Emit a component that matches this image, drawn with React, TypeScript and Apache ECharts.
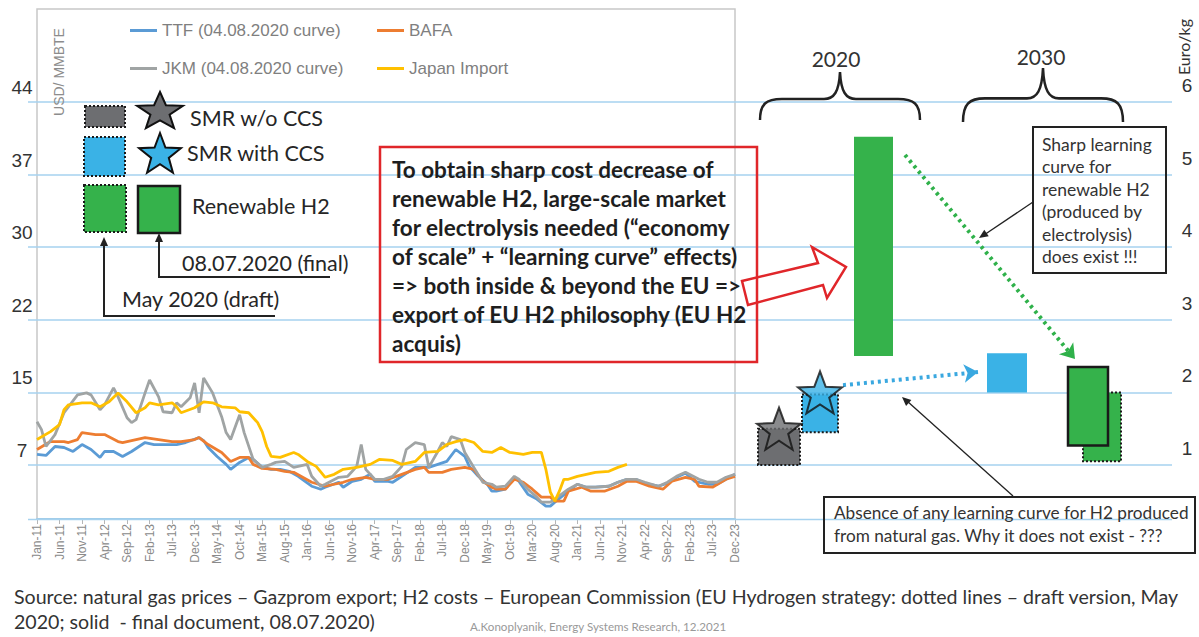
import React, { useEffect, useRef } from 'react';
import * as echarts from 'echarts';

// ---------- DATA ----------
const MONTHS = ['Jan', 'Feb', 'Mar', 'Apr', 'May', 'Jun', 'Jul', 'Aug', 'Sep', 'Oct', 'Nov', 'Dec'];
const YEARS = [2011, 2012, 2013, 2014, 2015, 2016, 2017, 2018, 2019, 2020, 2021, 2022, 2023];
const monthLabels: string[] = [];
YEARS.forEach((y) => MONTHS.forEach((m) => monthLabels.push(`${m}-${String(y).slice(2)}`)));

// [month index from Jan-11, USD/MMBtu]
const ttf = [[0,8.5],[2,8.4],[4,9.3],[6,9.2],[8,8.8],[10,9.5],[12,9.0],[14,8.2],[15,8.8],[17,8.8],[19,8.3],[21,8.8],[24,9.7],[26,9.5],[28,9.5],[31,9.5],[33,9.7],[36,10.2],[37,9.9],[38,9.2],[40,8.3],[42,7.5],[43,7.0],[45,7.7],[47,8.2],[48,8.0],[50,7.2],[52,7.0],[54,7.0],[56,6.8],[58,6.3],[61,5.3],[63,5.0],[64,5.2],[67,5.7],[68,5.2],[70,5.8],[72,6.0],[74,6.5],[75,5.8],[78,5.8],[79,5.7],[81,6.3],[84,7.2],[87,7.2],[89,7.5],[91,7.8],[93,9.0],[95,8.3],[96,7.3],[98,6.3],[100,5.5],[101,4.8],[102,4.8],[104,5.0],[106,6.2],[107,5.8],[109,4.5],[111,4.0],[113,3.3],[114,3.3],[115,3.7],[118,4.8],[120,5.5],[122,5.2],[124,5.2],[127,5.3],[129,5.7],[131,6.0],[133,6.0],[135,5.6],[138,5.3],[140,5.6],[142,6.2],[144,6.6],[146,5.8],[149,5.5],[151,5.5],[153,6.0],[155,6.5]];
const bafa = [[0,9.0],[3,9.8],[6,9.8],[7,9.7],[9,10.0],[10,10.7],[13,10.5],[15,10.5],[18,9.8],[19,9.7],[22,10.0],[24,10.2],[27,10.0],[30,9.8],[32,9.8],[35,10.0],[36,10.2],[38,9.5],[41,8.7],[43,7.8],[45,8.2],[47,8.2],[48,7.5],[50,7.1],[53,7.0],[55,6.8],[57,6.7],[59,6.2],[61,5.7],[64,5.3],[66,5.5],[68,5.7],[70,6.0],[73,6.2],[75,6.0],[78,6.0],[81,6.5],[84,7.0],[86,7.2],[87,6.7],[90,6.7],[92,7.0],[95,7.2],[97,7.0],[99,5.8],[101,5.2],[102,5.0],[104,5.0],[106,6.0],[108,5.7],[110,5.0],[112,4.2],[114,4.2],[115,3.8],[117,3.8],[118,4.8],[121,5.2],[123,4.8],[126,4.8],[129,5.3],[131,5.8],[133,5.8],[136,5.3],[139,5.0],[141,5.8],[144,6.2],[146,6.0],[147,5.3],[150,5.2],[153,6.0],[155,6.3]];
const jkm = [[0,11.8],[1,11.0],[2,9.3],[4,10.5],[6,12.7],[9,14.5],[11,14.7],[12,14.5],[14,13.0],[15,13.5],[17,15.2],[18,14.3],[20,12.2],[21,11.7],[22,12.0],[24,14.7],[25,16.0],[27,14.3],[28,12.8],[30,12.7],[31,13.7],[32,13.3],[34,14.2],[35,15.7],[36,12.7],[37,16.2],[39,14.7],[41,12.3],[42,10.7],[43,10.0],[45,12.5],[46,10.7],[48,8.0],[50,7.2],[52,7.5],[53,7.7],[55,7.8],[57,7.2],[58,7.3],[60,7.5],[61,6.3],[63,5.3],[64,5.5],[67,6.2],[69,6.3],[71,7.3],[72,9.5],[73,7.0],[75,6.0],[77,6.0],[79,6.3],[81,7.3],[82,9.0],[84,9.7],[86,9.5],[87,7.2],[89,8.8],[90,9.7],[91,9.3],[92,10.3],[94,10.0],[95,8.7],[97,7.2],[99,5.7],[101,5.5],[102,5.2],[104,5.3],[106,6.3],[107,6.0],[109,5.0],[111,4.2],[112,3.7],[114,3.7],[115,4.0],[118,5.0],[120,5.5],[122,5.2],[124,5.2],[127,5.3],[129,5.7],[131,6.0],[133,6.0],[135,5.7],[138,5.3],[140,5.7],[142,6.3],[144,6.7],[147,6.0],[149,5.7],[151,5.7],[153,6.2],[155,6.5]];
const japanImport = [[0,10.0],[3,10.8],[5,11.5],[6,13.0],[7,13.5],[10,13.7],[12,13.7],[14,13.3],[16,13.8],[18,14.7],[20,13.8],[22,12.7],[24,13.2],[25,13.7],[27,13.5],[30,13.7],[31,13.3],[32,12.7],[35,13.2],[37,13.8],[39,13.7],[41,13.3],[44,13.2],[45,12.8],[47,12.7],[49,11.7],[50,10.8],[51,9.3],[52,8.3],[54,8.2],[57,8.7],[58,8.5],[60,7.8],[62,7.3],[64,6.2],[66,6.5],[68,7.0],[71,7.2],[74,7.5],[76,8.0],[79,7.9],[81,7.5],[84,7.8],[86,8.7],[89,8.8],[91,9.5],[93,9.8],[95,10.0],[97,9.7],[99,8.8],[101,8.7],[103,9.2],[105,8.7],[108,8.5],[110,8.7],[112,8.7],[113,7.0],[114,4.7],[115,3.8],[116,4.8],[117,6.0],[118,6.0],[120,6.3],[122,6.5],[124,6.7],[127,6.8],[129,7.2],[131,7.5]];

const USD_TICK_LABELS = ['', '7', '15', '22', '30', '37', '44'];
const EUR_TICK_LABELS = ['', '1', '2', '3', '4', '5', '6'];

// H2 cost ranges, Euro/kg
const h2Names = ['SMR w/o CCS 2020 (draft)', 'SMR with CCS 2020 (draft)', 'Renewable H2 2020', 'SMR with CCS 2030', 'Renewable H2 2030 (draft)', 'Renewable H2 2030 (final)'];
const h2Low = [1.0, 1.45, 2.5, 2.0, 1.05, 1.27];
const h2High = [1.5, 1.97, 5.52, 2.54, 2.0, 2.35];
const starNames = ['SMR w/o CCS 2020 (final)', 'SMR with CCS 2020 (final)'];
const starValues = [1.5, 2.0];

// ---------- LAYOUT / STYLE ----------
const H2_LEFT = [730, 774, 826, 959, 1055, 1040];
const H2_WIDTH = [42, 36, 39, 40, 38, 40];
const STAR_X = [751, 792];
const GRAY = '#6d6e71';
const BLUE = '#3ab2e6';
const GREEN = '#35b24b';
const BOX_STYLES = [
  { fill: GRAY, stroke: '#1a1a1a', lineWidth: 2, lineDash: [2, 2] },
  { fill: BLUE, stroke: '#1a1a1a', lineWidth: 2, lineDash: [2, 2] },
  { fill: GREEN, stroke: null, lineWidth: 0, lineDash: null },
  { fill: BLUE, stroke: null, lineWidth: 0, lineDash: null },
  { fill: GREEN, stroke: '#1a1a1a', lineWidth: 2, lineDash: [2, 2] },
  { fill: GREEN, stroke: '#1a1a1a', lineWidth: 2.5, lineDash: null },
];
const STAR_PATH = 'path://M50,0 L62.34,33.01 L97.55,34.55 L69.97,56.49 L79.39,90.45 L50,71 L20.61,90.45 L30.03,56.49 L2.45,34.55 L37.66,33.01 Z';
const BRACE_D = 'M0,48 C0,32 6,27 22,27 L64,27 C74,27 79,20 80,0 C81,20 86,27 96,27 L138,27 C154,27 160,32 160,48';
echarts.graphic.registerShape('hbrace', echarts.graphic.extendPath(BRACE_D, {}));

const FONT = 'Lato';
const DARK = '#262626';

function txt(text: string, x: number, y: number, font: string, fill = DARK, align = 'left', extra: any = {}) {
  return { type: 'text', x, y, z: 20, silent: true, style: { text, font, fill, textAlign: align, textVerticalAlign: 'middle', verticalAlign: 'middle' }, ...extra };
}
function starPts(cx: number, cy: number, rx: number, ry: number, ratio = 0.42) {
  const pts: number[][] = [];
  for (let i = 0; i < 10; i++) {
    const a = -Math.PI / 2 + (i * Math.PI) / 5;
    const r = i % 2 === 0 ? 1 : ratio;
    pts.push([cx + rx * r * Math.cos(a), cy + ry * r * Math.sin(a)]);
  }
  return pts;
}
function head(x1: number, y1: number, x2: number, y2: number, len = 10, half = 4, color = '#222') {
  const dx = x2 - x1, dy = y2 - y1, L = Math.hypot(dx, dy);
  const ux = dx / L, uy = dy / L;
  const bx = x2 - ux * len, by = y2 - uy * len;
  return { type: 'polygon', z: 20, silent: true, shape: { points: [[x2, y2], [bx - uy * half, by + ux * half], [bx + uy * half, by - ux * half]] }, style: { fill: color } };
}
function seg(x1: number, y1: number, x2: number, y2: number, color = '#222', w = 1.3) {
  return { type: 'line', z: 20, silent: true, shape: { x1, y1, x2, y2 }, style: { stroke: color, lineWidth: w } };
}

const redLines = [
  'To obtain sharp cost decrease of',
  'renewable H2, large-scale market',
  'for electrolysis needed (\u201ceconomy',
  'of scale\u201d + \u201clearning curve\u201d effects)',
  '=> both inside & beyond the EU =>',
  'export of EU H2 philosophy (EU H2',
  'acquis)',
];
const sharpLines = ['Sharp learning', 'curve for', 'renewable H2', '(produced by', 'electrolysis)', 'does exist !!!'];

function buildGraphics() {
  const g: any[] = [];
  g.push({ type: 'line', z: 1, silent: true, shape: { x1: 28, y1: 519.5, x2: 1172, y2: 519.5 }, style: { stroke: '#a6d2ef', lineWidth: 1.5 } });
  // axis titles
  g.push(txt('USD/ MMBTE', 59, 72, `14px 'Liberation Sans'`, '#8c8c8c', 'center', { rotation: Math.PI / 2 }));
  g.push(txt('Euro/kg', 1183, 47, `16px ${FONT}`, '#333', 'center', { rotation: Math.PI / 2 }));
  // legend boxes (left)
  g.push({ type: 'rect', z: 15, shape: { x: 85, y: 106, width: 40, height: 21 }, style: { fill: GRAY, stroke: '#1a1a1a', lineWidth: 2, lineDash: [2, 2] } });
  g.push({ type: 'polygon', z: 15, shape: { points: starPts(160, 112, 24, 20) }, style: { fill: GRAY, stroke: '#111', lineWidth: 2 } });
  g.push(txt('SMR w/o CCS', 190, 118, `21.5px ${FONT}`));
  g.push({ type: 'rect', z: 15, shape: { x: 84, y: 137, width: 41, height: 39 }, style: { fill: BLUE, stroke: '#1a1a1a', lineWidth: 2, lineDash: [2, 2] } });
  g.push({ type: 'polygon', z: 15, shape: { points: starPts(160, 155, 22, 22) }, style: { fill: BLUE, stroke: '#111', lineWidth: 2 } });
  g.push(txt('SMR with CCS', 187, 153, `21.5px ${FONT}`));
  g.push({ type: 'rect', z: 15, shape: { x: 84, y: 185, width: 42, height: 47 }, style: { fill: GREEN, stroke: '#1a1a1a', lineWidth: 2, lineDash: [2, 2] } });
  g.push({ type: 'rect', z: 15, shape: { x: 138, y: 186, width: 42, height: 47 }, style: { fill: GREEN, stroke: '#1a1a1a', lineWidth: 2.5 } });
  g.push(txt('Renewable H2', 192, 206, `21.5px ${FONT}`));
  // legend pointers
  g.push({ type: 'polyline', z: 15, shape: { points: [[330, 277], [159, 277], [159, 240]] }, style: { stroke: '#222', lineWidth: 2, fill: 'none' } });
  g.push(head(159, 260, 159, 233, 9, 4));
  g.push(txt('08.07.2020 (final)', 182, 263, `21.5px ${FONT}`));
  g.push({ type: 'polyline', z: 15, shape: { points: [[275, 316], [104, 316], [104, 244]] }, style: { stroke: '#222', lineWidth: 2, fill: 'none' } });
  g.push(head(104, 260, 104, 237, 9, 4));
  g.push(txt('May 2020 (draft)', 122, 299, `21.5px ${FONT}`));
  // red box
  g.push({ type: 'rect', z: 15, shape: { x: 380, y: 147, width: 377, height: 215 }, style: { fill: 'none', stroke: '#e0262a', lineWidth: 2.5 } });
  redLines.forEach((l, i) => g.push(txt(l, 392, 169 + i * 29, `bold 22.5px ${FONT}`, '#1e1e1e')));
  g.push({ type: 'polygon', z: 15, shape: { points: [[742, 281], [818, 263], [812, 247], [846, 267], [827, 298], [823, 285], [748, 305]] }, style: { fill: 'none', stroke: '#e0262a', lineWidth: 2.5 } });
  // braces + years
  g.push({ type: 'hbrace', z: 15, x: 760, y: 72, style: { fill: 'none', stroke: '#222', lineWidth: 2.5 } });
  g.push({ type: 'hbrace', z: 15, x: 963, y: 68, scaleY: 1.125, style: { fill: 'none', stroke: '#222', lineWidth: 2.5 } });
  g.push(txt('2020', 836, 58, `21px ${FONT}`, '#333', 'center'));
  g.push(txt('2030', 1041, 56, `21px ${FONT}`, '#333', 'center'));
  // sharp learning box
  g.push({ type: 'rect', z: 15, shape: { x: 1033, y: 127, width: 133, height: 146 }, style: { fill: 'none', stroke: '#222', lineWidth: 2 } });
  sharpLines.forEach((l, i) => g.push(txt(l, 1042, 144 + i * 22.5, `17.5px ${FONT}`, '#333')));
  g.push(seg(1033, 202, 984, 235));
  g.push(head(1033, 202, 979, 238, 9, 4));
  // bottom box
  g.push({ type: 'rect', z: 15, shape: { x: 824, y: 497, width: 371, height: 56 }, style: { fill: 'none', stroke: '#222', lineWidth: 2 } });
  g.push(txt('Absence of any learning curve for H2 produced', 834, 512, `17.2px ${FONT}`, '#333'));
  g.push(txt('from natural gas. Why it does not exist - ???', 834, 535, `17.2px ${FONT}`, '#333'));
  g.push(seg(1013, 496, 907, 401));
  g.push(head(1013, 496, 902, 397, 9, 4));
  // source
  g.push(txt('Source: natural gas prices \u2013 Gazprom export; H2 costs \u2013 European Commission (EU Hydrogen strategy: dotted lines \u2013 draft version, May', 14, 596, `19.6px ${FONT}`, '#333'));
  g.push(txt('2020; solid  - final document, 08.07.2020)', 14, 621, `19.6px ${FONT}`, '#333'));
  g.push(txt('A.Konoplyanik, Energy Systems Research, 12.2021', 470, 626, `11.6px ${FONT}`, '#999'));
  return g;
}

const legendCommon = {
  icon: 'rect', itemWidth: 27, itemHeight: 3, padding: 0, selectedMode: false,
  textStyle: { color: '#7f7f7f', fontSize: 17, fontFamily: 'Liberation Sans' },
};

export default function App() {
  const ref = useRef<HTMLDivElement>(null);
  useEffect(() => {
    if (!ref.current) return;
    const chart = echarts.init(ref.current, undefined, { renderer: 'svg' });
    const h2Data = h2Names.map((n, i) => ({ name: n, value: [H2_LEFT[i], H2_LEFT[i] + H2_WIDTH[i], h2Low[i], h2High[i], i] }));
    const starColors = [GRAY, BLUE];
    const lineSeries = (name: string, data: number[][], color: string) => ({
      name, type: 'line', xAxisIndex: 1, yAxisIndex: 2, data, showSymbol: false, symbol: 'none',
      lineStyle: { color, width: 2.8 }, itemStyle: { color }, z: 3, silent: true,
    });
    const option: any = {
      animation: false,
      textStyle: { fontFamily: FONT },
      legend: [
        { ...legendCommon, data: ['TTF (04.08.2020 curve)'], left: 130, top: 22 },
        { ...legendCommon, data: ['BAFA'], left: 377, top: 22 },
        { ...legendCommon, data: ['JKM (04.08.2020 curve)'], left: 130, top: 60 },
        { ...legendCommon, data: ['Japan Import'], left: 377, top: 60 },
      ],
      grid: [
        { left: 28, right: 27, top: 102, height: 435.6 },
        { left: 37, right: 464, top: 9, bottom: 118, show: true, borderColor: '#c8c8c8', borderWidth: 1.5 },
      ],
      xAxis: [
        { gridIndex: 0, type: 'value', min: 0, max: 1144, show: false },
        {
          gridIndex: 1, type: 'value', min: 0, max: 155, interval: 5,
          axisLine: { show: true, lineStyle: { color: '#9fcbe8', width: 2 } },
          axisTick: { show: true, length: 5, lineStyle: { color: '#b5b5b5' } },
          splitLine: { show: false },
          axisLabel: { rotate: 90, margin: 5, color: '#8a8a8a', fontSize: 12, fontFamily: 'Liberation Sans', formatter: (v: number) => monthLabels[Math.round(v)] ?? '' },
        },
      ],
      yAxis: [
        {
          gridIndex: 0, type: 'value', position: 'left', min: 0, max: 6, interval: 1,
          axisLine: { show: false }, axisTick: { show: false },
          splitLine: { show: true, showMinLine: false, lineStyle: { color: '#a6d2ef', width: 1.5 } },
          axisLabel: { formatter: (v: number) => USD_TICK_LABELS[Math.round(v)] ?? '', color: '#333', fontSize: 19, fontFamily: 'Liberation Sans', align: 'center', margin: 6, verticalAlign: 'bottom', padding: [0, 0, 5, 0] },
        },
        {
          gridIndex: 0, type: 'value', position: 'right', min: 0, max: 6, interval: 1,
          axisLine: { show: false }, axisTick: { show: false }, splitLine: { show: false },
          axisLabel: { formatter: (v: number) => EUR_TICK_LABELS[Math.round(v)] ?? '', color: '#333', fontSize: 19, fontFamily: 'Liberation Sans', align: 'center', margin: 15, verticalAlign: 'bottom', padding: [0, 0, 7, 0] },
        },
        { gridIndex: 1, type: 'value', min: 2, max: 53.36, show: false, splitLine: { show: false } },
      ],
      series: [
        lineSeries('TTF (04.08.2020 curve)', ttf, '#5b9bd5'),
        lineSeries('BAFA', bafa, '#ed7d31'),
        lineSeries('JKM (04.08.2020 curve)', jkm, '#a0a4a4'),
        lineSeries('Japan Import', japanImport, '#ffc000'),
        {
          name: 'H2 cost ranges', type: 'custom', xAxisIndex: 0, yAxisIndex: 1, silent: true, z: 4,
          encode: { x: [0, 1], y: [2, 3] },
          data: h2Data,
          renderItem: (params: any, api: any) => {
            const x0 = api.value(0), x1 = api.value(1), lo = api.value(2), hi = api.value(3), k = api.value(4);
            const p0 = api.coord([x0, hi]);
            const p1 = api.coord([x1, lo]);
            const st = BOX_STYLES[k];
            return {
              type: 'rect',
              shape: { x: p0[0], y: p0[1], width: p1[0] - p0[0], height: p1[1] - p0[1] },
              style: { fill: st.fill, stroke: st.stroke, lineWidth: st.lineWidth, lineDash: st.lineDash },
            };
          },
        },
        {
          name: 'H2 final 2020', type: 'scatter', xAxisIndex: 0, yAxisIndex: 1, silent: true, z: 5,
          symbol: STAR_PATH, symbolSize: [44, 42], symbolKeepAspect: false,
          data: starNames.map((n, i) => ({ name: n, value: [STAR_X[i], starValues[i]], itemStyle: { color: starColors[i], borderColor: '#111', borderWidth: 2 } })),
          markLine: {
            silent: true, symbol: ['none', 'arrow'], symbolSize: 14, label: { show: false }, animation: false,
            data: [
              [{ coord: [815, 2.1], lineStyle: { color: '#3aa8e0', width: 4, type: [3, 4] } }, { coord: [950, 2.28] }],
              [{ coord: [877, 5.27], lineStyle: { color: '#2fb14a', width: 4, type: [3, 4] } }, { coord: [1047, 2.46] }],
            ],
          },
        },
      ],
      graphic: { elements: buildGraphics() },
    };
    chart.setOption(option);
    return () => chart.dispose();
  }, []);
  return <div ref={ref} style={{ position: 'fixed', left: 0, top: 0, width: 1199, height: 637, background: '#fff' }} />;
}
